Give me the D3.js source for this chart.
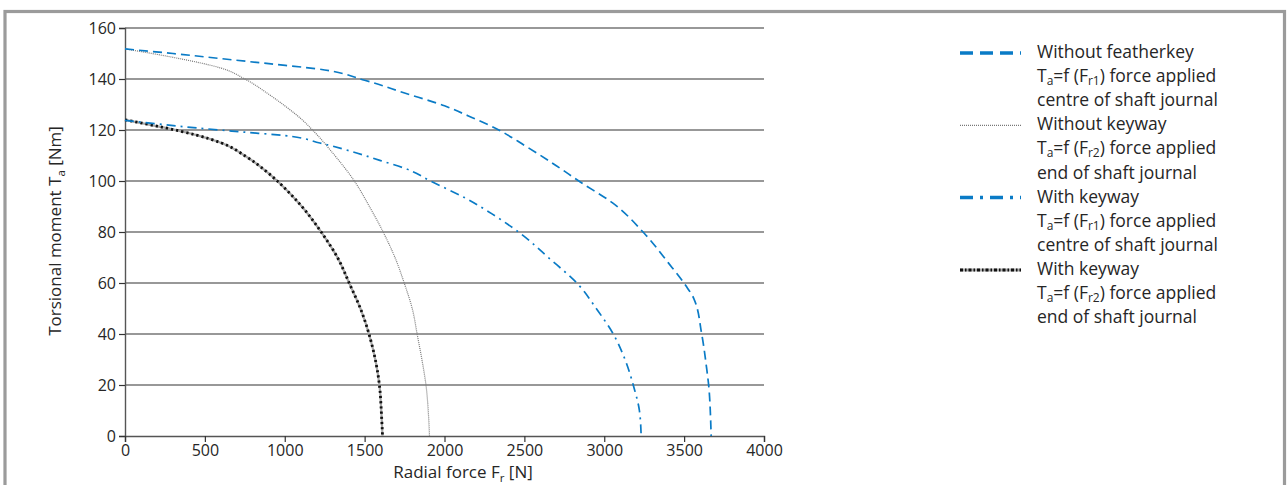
<!DOCTYPE html>
<html><head><meta charset="utf-8">
<script src="https://cdn.jsdelivr.net/npm/d3@7"></script>
<style>
body{margin:0;background:#fff;}
svg{display:block;font-family:"Open Sans",sans-serif;}
</style></head>
<body><svg id="c" width="1287" height="485"></svg>
<script>
const xTicks=[0,500,1000,1500,2000,2500,3000,3500,4000];
const yTicks=[0,20,40,60,80,100,120,140,160];

const withoutFeatherkeyFr1=[[0,151.8],[300,150],[600,148],[900,146],[1200,144],[1500,139.5],[1750,134.5],[2000,129.5],[2150,125.5],[2325,120.5],[2500,114],[2700,106],[2850,99.6],[3050,91.5],[3250,79.5],[3400,68],[3510,59],[3560,54],[3610,40],[3640,27],[3655,19],[3665,8],[3669,0]];
const withoutKeywayFr2=[[0,151.8],[300,148.5],[600,144.3],[750,140],[900,134],[1000,129.5],[1100,124.5],[1180,119.6],[1300,111],[1440,99.6],[1530,90],[1620,79.5],[1690,70],[1750,59.6],[1800,49.5],[1830,39.5],[1860,29.5],[1885,19.5],[1900,8],[1906,0]];
const withKeywayFr1=[[0,123.8],[450,120.8],[740,119.2],[1000,117.8],[1220,114.9],[1450,111],[1600,108],[1750,105],[1925,99.6],[2140,93],[2300,87],[2480,79.2],[2650,70],[2840,59.2],[2950,50],[3060,39.6],[3130,30],[3185,19.2],[3220,10],[3231,0]];
const withKeywayFr2=[[0,124],[240,121],[448,118],[600,115],[760,109.5],[880,104],[970,99],[1100,90.5],[1237,79.2],[1330,70],[1406,59.6],[1480,49],[1531,39.2],[1570,29],[1594,19.2],[1605,9],[1612,0]];

const legendTitles=["Without featherkey","Without keyway","With keyway","With keyway"];
const legendSubs=["1","2","1","2"];
const legendPlaces=["centre of shaft journal","end of shaft journal","centre of shaft journal","end of shaft journal"];

const svg=d3.select("#c");
const blue="#0a7bc6";
const ink="#262626";

// frame
svg.append("rect").attr("x",5).attr("y",11.5).attr("width",1279.5).attr("height",520)
  .attr("fill","none").attr("stroke","#9b9b9b").attr("stroke-width",3.2);

const x=d3.scaleLinear().domain([0,4000]).range([125,764]);
const y=d3.scaleLinear().domain([0,160]).range([436,28]);

// grid
svg.append("g").selectAll("line").data(yTicks.filter(d=>d>0)).join("line")
  .attr("x1",x(0)).attr("x2",x(4000)).attr("y1",d=>y(d)).attr("y2",d=>y(d))
  .attr("stroke","#333").attr("stroke-width",1.2);

const yAxis=svg.append("g").attr("transform",`translate(${x(0)},0)`)
  .call(d3.axisLeft(y).tickValues(yTicks).tickSize(6).tickPadding(3));
const xAxis=svg.append("g").attr("transform",`translate(0,${y(0)})`)
  .call(d3.axisBottom(x).tickValues(xTicks).tickFormat(d3.format("d")).tickSize(6).tickPadding(3));
[yAxis,xAxis].forEach(a=>{
  a.select(".domain").attr("stroke","#555").attr("stroke-width",1.4);
  a.selectAll(".tick line").attr("stroke","#333").attr("stroke-width",1.2);
  a.selectAll("text").attr("fill",ink).style("font-size","16px").style("font-family","'Open Sans',sans-serif");
});

const line=d3.line().x(d=>x(d[0])).y(d=>y(d[1])).curve(d3.curveMonotoneY);

function drawSeries(data,styles){
  styles.forEach(s=>{
    svg.append("path").datum(data).attr("d",line).attr("fill","none")
      .attr("stroke",s.c).attr("stroke-width",s.w).attr("stroke-dasharray",s.d||null);
  });
}
drawSeries(withoutKeywayFr2,[{c:"#7a7a7a",w:1.2,d:"1,1"}]);
drawSeries(withKeywayFr2,[{c:"#a9a9a9",w:2.2,d:null},{c:"#111",w:2.8,d:"2.2,3"}]);
drawSeries(withoutFeatherkeyFr1,[{c:blue,w:1.7,d:"9,5"}]);
drawSeries(withKeywayFr1,[{c:blue,w:1.7,d:"9,5,2,5"}]);

// axis titles
const yt=svg.append("text").attr("transform","translate(61,231) rotate(-90)")
  .attr("text-anchor","middle").attr("fill",ink).style("font-size","17px");
yt.append("tspan").text("Torsional moment T");
yt.append("tspan").text("a").style("font-size","11.5px").attr("dy",4);
yt.append("tspan").text(" [Nm]").attr("dy",-4);

const xt=svg.append("text").attr("x",463).attr("y",478)
  .attr("text-anchor","middle").attr("fill",ink).style("font-size","17px");
xt.append("tspan").text("Radial force F");
xt.append("tspan").text("r").style("font-size","11.5px").attr("dy",4);
xt.append("tspan").text(" [N]").attr("dy",-4);

// legend
const legStyles=[
  [{c:blue,w:3.5,d:"13,7"}],
  [{c:"#777",w:1.2,d:"1,1"}],
  [{c:blue,w:3.5,d:"13,7,3,7"}],
  [{c:"#aaa",w:3,d:null},{c:"#111",w:3,d:"3,2,1.5,2"}]
];
const lx0=960,lx1=1021,tx=1037,rowH=24.1,base0=58;
legendTitles.forEach((t,i)=>{
  const b=base0+rowH*3*i;
  legStyles[i].forEach(s=>{
    svg.append("line").attr("x1",lx0).attr("x2",lx1).attr("y1",b-5).attr("y2",b-5)
      .attr("stroke",s.c).attr("stroke-width",s.w).attr("stroke-dasharray",s.d||null);
  });
  svg.append("text").attr("x",tx).attr("y",b).attr("fill",ink).style("font-size","17.5px").text(t);
  const t2=svg.append("text").attr("x",tx).attr("y",b+rowH).attr("fill",ink).style("font-size","17.5px");
  t2.append("tspan").text("T");
  t2.append("tspan").text("a").style("font-size","12px").attr("dy",3);
  t2.append("tspan").text("=f (F").attr("dy",-3);
  t2.append("tspan").text("r"+legendSubs[i]).style("font-size","12px").attr("dy",3);
  t2.append("tspan").text(") force applied").attr("dy",-3);
  svg.append("text").attr("x",tx).attr("y",b+2*rowH).attr("fill",ink).style("font-size","17.5px").text(legendPlaces[i]);
});
</script></body></html>
